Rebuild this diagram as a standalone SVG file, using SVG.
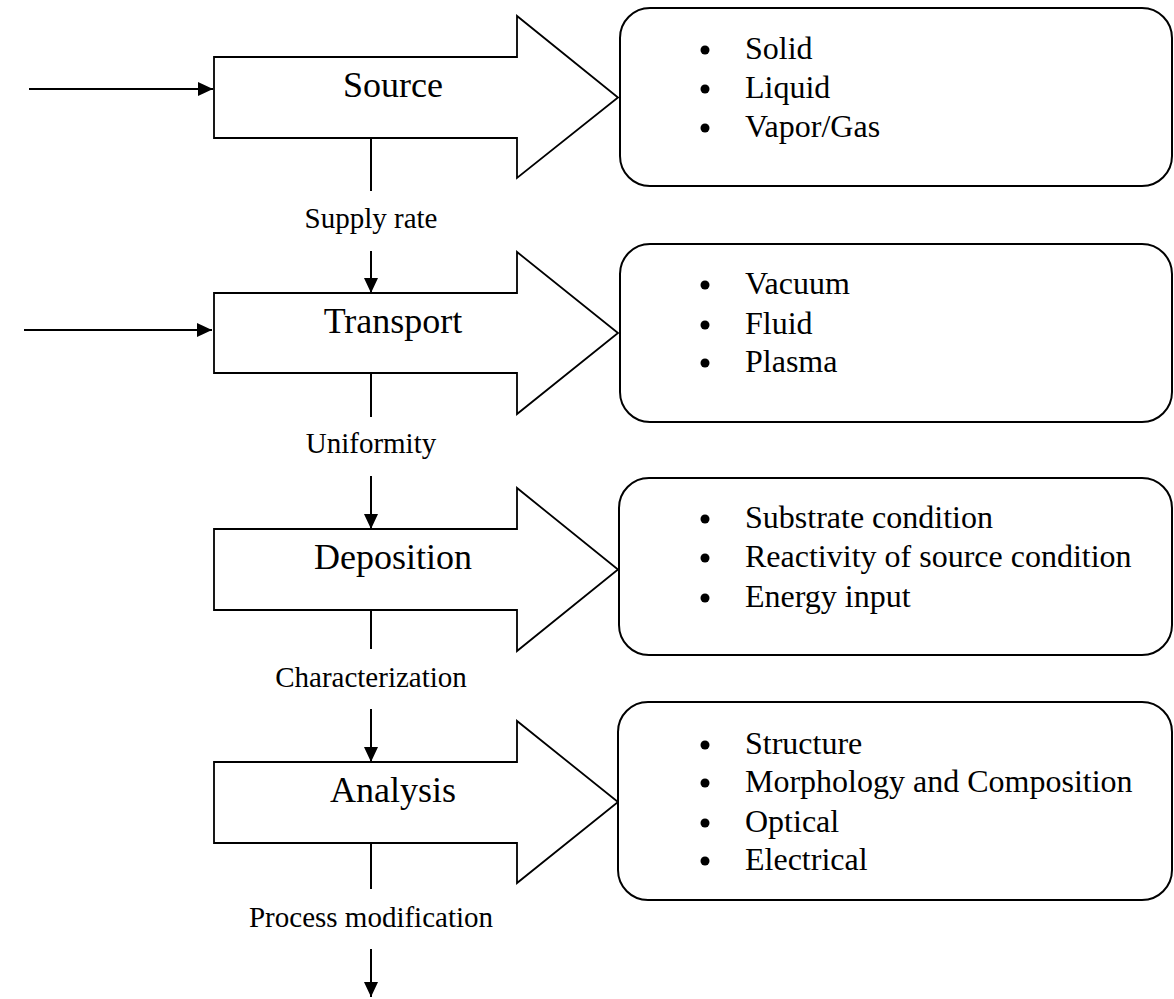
<svg xmlns="http://www.w3.org/2000/svg" width="1174" height="999" viewBox="0 0 1174 999">
<defs>
<style>
.shape{fill:#fff;stroke:#000;stroke-width:1.8;stroke-linejoin:miter}
.box{fill:#fff;stroke:#000;stroke-width:2}
.ln{stroke:#000;stroke-width:2;fill:none}
.title{font-family:"Liberation Serif","Times New Roman",serif;font-size:36px;text-anchor:middle;fill:#000}
.item{font-family:"Liberation Serif","Times New Roman",serif;font-size:32px;fill:#000}
.lbl{font-family:"Liberation Serif","Times New Roman",serif;font-size:29px;text-anchor:middle;fill:#000}
.dot{fill:#000}
</style>
<marker id="ah" markerUnits="userSpaceOnUse" markerWidth="16" markerHeight="16" refX="15" refY="7" orient="auto">
<path d="M0,0 L15,7 L0,14 Z" fill="#000"/>
</marker>
</defs>
<rect width="1174" height="999" fill="#fff"/>

<g id="source">
<path class="shape" d="M214,57 H517 V16 L618,97.5 L517,178 V138 H214 Z"/>
<text class="title" x="393" y="97">Source</text>
</g>
<g id="source-box">
<rect class="box" x="620" y="8" width="552" height="178" rx="30" ry="30"/>
<circle class="dot" cx="705" cy="50" r="4.5"/>
<circle class="dot" cx="705" cy="89" r="4.5"/>
<circle class="dot" cx="705" cy="128" r="4.5"/>
<text class="item" x="745" y="59">Solid</text>
<text class="item" x="745" y="98">Liquid</text>
<text class="item" x="745" y="137">Vapor/Gas</text>
</g>

<g id="transport">
<path class="shape" d="M214,293 H517 V252 L618,333 L517,414 V373 H214 Z"/>
<text class="title" x="393" y="333">Transport</text>
</g>
<g id="transport-box">
<rect class="box" x="620" y="244" width="552" height="178" rx="30" ry="30"/>
<circle class="dot" cx="705" cy="285" r="4.5"/>
<circle class="dot" cx="705" cy="325" r="4.5"/>
<circle class="dot" cx="705" cy="363" r="4.5"/>
<text class="item" x="745" y="294">Vacuum</text>
<text class="item" x="745" y="334">Fluid</text>
<text class="item" x="745" y="372">Plasma</text>
</g>

<g id="deposition">
<path class="shape" d="M214,529 H517 V488 L618,569.5 L517,651 V610 H214 Z"/>
<text class="title" x="393" y="569">Deposition</text>
</g>
<g id="deposition-box">
<rect class="box" x="619" y="478" width="553" height="177" rx="30" ry="30"/>
<circle class="dot" cx="705" cy="519" r="4.5"/>
<circle class="dot" cx="705" cy="558" r="4.5"/>
<circle class="dot" cx="705" cy="598" r="4.5"/>
<text class="item" x="745" y="528">Substrate condition</text>
<text class="item" x="745" y="567">Reactivity of source condition</text>
<text class="item" x="745" y="607">Energy input</text>
</g>

<g id="analysis">
<path class="shape" d="M214,762 H517 V721 L618,802 L517,883 V843 H214 Z"/>
<text class="title" x="393" y="802">Analysis</text>
</g>
<g id="analysis-box">
<rect class="box" x="618" y="702" width="554" height="198" rx="30" ry="30"/>
<circle class="dot" cx="705" cy="745" r="4.5"/>
<circle class="dot" cx="705" cy="783" r="4.5"/>
<circle class="dot" cx="705" cy="823" r="4.5"/>
<circle class="dot" cx="705" cy="861" r="4.5"/>
<text class="item" x="745" y="754">Structure</text>
<text class="item" x="745" y="792">Morphology and Composition</text>
<text class="item" x="745" y="832">Optical</text>
<text class="item" x="745" y="870">Electrical</text>
</g>

<g id="connectors">
<line class="ln" x1="29" y1="89" x2="213" y2="89" marker-end="url(#ah)"/>
<line class="ln" x1="24" y1="330" x2="212" y2="330" marker-end="url(#ah)"/>
<line class="ln" x1="371" y1="138" x2="371" y2="191"/>
<line class="ln" x1="371" y1="251" x2="371" y2="293" marker-end="url(#ah)"/>
<line class="ln" x1="371" y1="373" x2="371" y2="417"/>
<line class="ln" x1="371" y1="476" x2="371" y2="529" marker-end="url(#ah)"/>
<line class="ln" x1="371" y1="610" x2="371" y2="649"/>
<line class="ln" x1="371" y1="709" x2="371" y2="762" marker-end="url(#ah)"/>
<line class="ln" x1="371" y1="843" x2="371" y2="889"/>
<line class="ln" x1="371" y1="949" x2="371" y2="997" marker-end="url(#ah)"/>
<text class="lbl" x="371" y="228">Supply rate</text>
<text class="lbl" x="371" y="453">Uniformity</text>
<text class="lbl" x="371" y="687">Characterization</text>
<text class="lbl" x="371" y="927">Process modification</text>
</g>
</svg>
